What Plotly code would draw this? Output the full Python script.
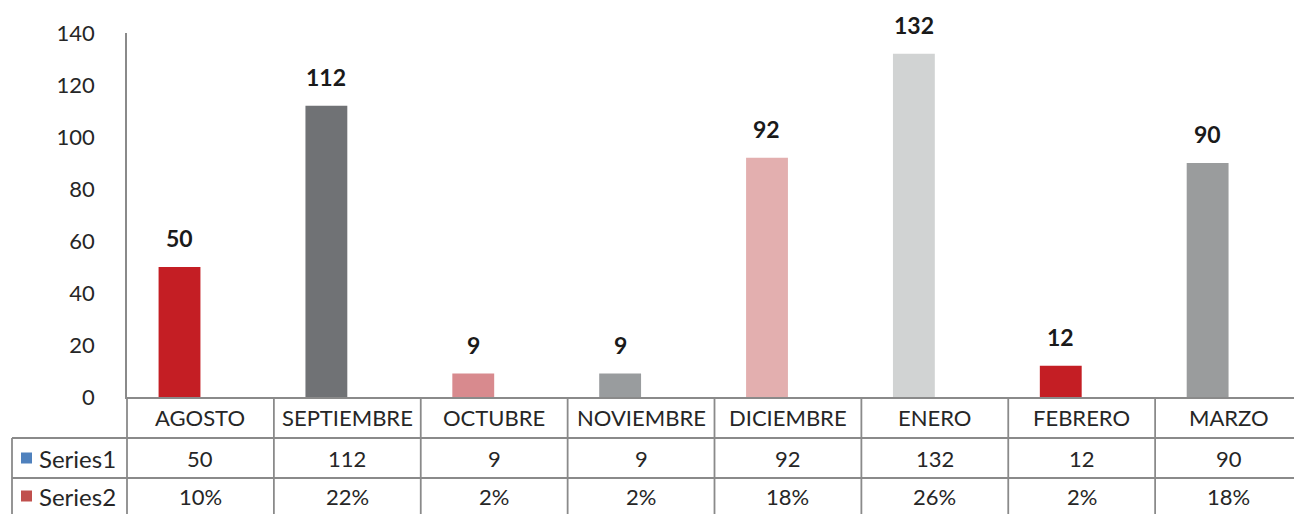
import plotly.graph_objects as go

categories = ["AGOSTO", "SEPTIEMBRE", "OCTUBRE", "NOVIEMBRE", "DICIEMBRE", "ENERO", "FEBRERO", "MARZO"]
series1 = [50, 112, 9, 9, 92, 132, 12, 90]
series2 = [0.10, 0.22, 0.02, 0.02, 0.18, 0.26, 0.02, 0.18]
series2_labels = ["10%", "22%", "2%", "2%", "18%", "26%", "2%", "18%"]
bar_colors = ["#C41E24", "#707275", "#D88A8E", "#999C9E", "#E3AFAF", "#D1D3D3", "#C41E24", "#9A9C9D"]

OFF = 8  # browser default body margin
W, H = 1302 - OFF, 514 - OFF
L, T = 127 - OFF, 33 - OFF
PLOT_BOTTOM = 397 - OFF
B = H - PLOT_BOTTOM
PW, PH = W - L, PLOT_BOTTOM - T
FONT = "Lato"
FS = 22
LINE = "#8A8A8A"
LW = 1.8
TXT = "#262626"


def px(x):
    """page pixel x -> paper x"""
    return (x - OFF - L) / PW


def py(y):
    """page pixel y -> paper y"""
    return (PLOT_BOTTOM - (y - OFF)) / PH


fig = go.Figure()
fig.add_trace(go.Bar(x=categories, y=series1, name="Series1",
                     marker=dict(color=bar_colors, line=dict(width=0)), hoverinfo="skip"))
fig.add_trace(go.Bar(x=categories, y=series2, name="Series2",
                     marker=dict(color="#C0504D", line=dict(width=0)), opacity=0, hoverinfo="skip"))

shapes = []
annotations = []

y_axis0 = 397
row1 = 438
row2 = 478
row3 = 516

for yy in (row1, row2):
    shapes.append(dict(type="line", xref="paper", yref="paper", x0=px(12), x1=1,
                       y0=py(yy), y1=py(yy), line=dict(color=LINE, width=LW)))
shapes.append(dict(type="line", xref="paper", yref="paper", x0=px(12), x1=px(12),
                   y0=py(row1), y1=py(row3), line=dict(color=LINE, width=LW)))
shapes.append(dict(type="line", xref="paper", yref="paper", x0=0, x1=0,
                   y0=0, y1=py(row3), line=dict(color=LINE, width=LW)))
for i in range(1, len(categories)):
    shapes.append(dict(type="line", xref="x", yref="paper", x0=i - 0.5, x1=i - 0.5,
                       y0=0, y1=py(row3), line=dict(color=LINE, width=LW)))

for yy, col in [((row1 + row2) / 2, "#4F81BD"), ((row2 + row3) / 2 - 1, "#C0504D")]:
    shapes.append(dict(type="rect", xref="paper", yref="paper", x0=px(21), x1=px(32),
                       y0=py(yy - 5.5), y1=py(yy + 5.5), fillcolor=col, line=dict(width=0)))
annotations.append(dict(text="Series1", xref="paper", yref="paper", x=px(37), y=py((row1 + row2) / 2),
                        xanchor="left", yanchor="middle", showarrow=False,
                        font=dict(family=FONT, size=24, color=TXT)))
annotations.append(dict(text="Series2", xref="paper", yref="paper", x=px(37), y=py((row2 + row3) / 2 - 1),
                        xanchor="left", yanchor="middle", showarrow=False,
                        font=dict(family=FONT, size=24, color=TXT)))

for c, v1, lab2 in zip(categories, series1, series2_labels):
    annotations.append(dict(text=c, xref="x", yref="paper", x=c, y=py((y_axis0 + row1) / 2),
                            yanchor="middle", showarrow=False,
                            font=dict(family=FONT, size=FS, color=TXT)))
    annotations.append(dict(text=str(v1), xref="x", yref="paper", x=c, y=py((row1 + row2) / 2),
                            yanchor="middle", showarrow=False,
                            font=dict(family=FONT, size=FS, color=TXT)))
    annotations.append(dict(text=lab2, xref="x", yref="paper", x=c, y=py((row2 + row3) / 2 - 1),
                            yanchor="middle", showarrow=False,
                            font=dict(family=FONT, size=FS, color=TXT)))
    annotations.append(dict(text="<b>%d</b>" % v1, xref="x", yref="y", x=c, y=v1,
                            xshift=-21, yshift=13, yanchor="bottom", showarrow=False,
                            font=dict(family=FONT, size=23, color="#1a1a1a")))

fig.update_layout(
    width=W, height=H,
    margin=dict(l=L, r=0, t=T, b=B, pad=0),
    paper_bgcolor="white", plot_bgcolor="white",
    barmode="group", bargap=0.43, bargroupgap=0,
    showlegend=False,
    shapes=shapes, annotations=annotations,
    xaxis=dict(showticklabels=False, ticks="", showgrid=False, zeroline=False,
               showline=True, linecolor=LINE, linewidth=LW, range=[-0.5, 7.5], fixedrange=True),
    yaxis=dict(range=[0, 140], dtick=20, showgrid=False, zeroline=False,
               showline=True, linecolor=LINE, linewidth=LW, ticks="",
               ticklabelstandoff=26,
               tickfont=dict(family=FONT, size=FS, color=TXT), fixedrange=True),
)

fig.write_html("out.html")
